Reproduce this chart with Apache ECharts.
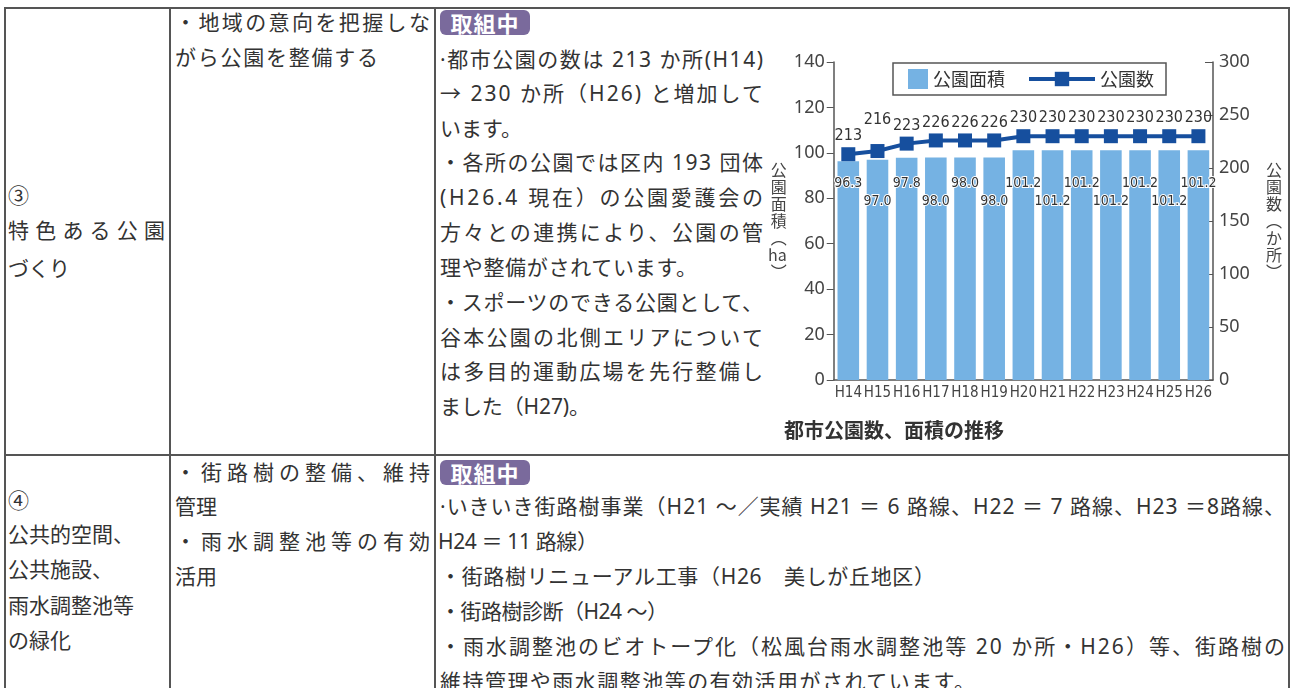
<!DOCTYPE html>
<html lang="ja">
<head>
<meta charset="utf-8">
<title>都市公園数、面積の推移</title>
<script src="https://cdn.jsdelivr.net/npm/echarts@6/dist/echarts.min.js"></script>
<style>
  html, body { margin: 0; padding: 0; background: #fff; }
  body { width: 1292px; height: 688px; position: relative; overflow: hidden;
         font-family: 'Noto Sans', 'Noto Sans CJK JP', sans-serif; color: #333; }
  .rule { position: absolute; background: #555; }
  .ln { position: absolute; font-size: 21px; line-height: 24px; white-space: nowrap; }
  .badge { position: absolute; width: 90px; height: 25px; background: #7a6a9c; color: #fff;
           border-radius: 6px; font-family: 'Noto Sans CJK JP', sans-serif;
           font-size: 22px; font-weight: bold; line-height: 25px;
           text-align: center; letter-spacing: 1px; }
  #chart { position: absolute; left: 765px; top: 36px; width: 520px; height: 410px; }
</style>
</head>
<body>
<!-- table rules -->
<div class="rule" style="left:4px;top:7px;width:1286px;height:2px"></div>
<div class="rule" style="left:4px;top:454px;width:1286px;height:2px"></div>
<div class="rule" style="left:4px;top:7px;width:2px;height:700px"></div>
<div class="rule" style="left:169px;top:7px;width:2px;height:700px"></div>
<div class="rule" style="left:434px;top:7px;width:2px;height:700px"></div>
<div class="rule" style="left:1288px;top:7px;width:2px;height:700px"></div>

<!-- row 1 -->
<div class="ln" style="left:8px;top:183px">③</div>
<div class="ln" style="left:8px;top:218px" data-w="157">特色ある公園</div>
<div class="ln" style="left:8px;top:256px" data-w="62">づくり</div>

<div class="ln" style="left:175px;top:10px" data-w="255">・地域の意向を把握しな</div>
<div class="ln" style="left:175px;top:45px" data-w="203">がら公園を整備する</div>

<div class="badge" style="left:440px;top:10px">取組中</div>
<div class="ln" style="left:440px;top:47px" data-w="323">·都市公園の数は 213 か所(H14)</div>
<div class="ln" style="left:440px;top:81px" data-w="323">→ 230 か所（H26) と増加して</div>
<div class="ln" style="left:440px;top:116px">います。</div>
<div class="ln" style="left:440px;top:150px" data-w="323">・各所の公園では区内 193 団体</div>
<div class="ln" style="left:440px;top:185px" data-w="323">(H26.4 現在）の公園愛護会の</div>
<div class="ln" style="left:440px;top:220px" data-w="323">方々との連携により、公園の管</div>
<div class="ln" style="left:440px;top:255px" data-w="257">理や整備がされています。</div>
<div class="ln" style="left:440px;top:290px" data-w="323">・スポーツのできる公園として、</div>
<div class="ln" style="left:440px;top:325px" data-w="323">谷本公園の北側エリアについて</div>
<div class="ln" style="left:440px;top:359px" data-w="323">は多目的運動広場を先行整備し</div>
<div class="ln" style="left:440px;top:394px" data-w="150">ました（H27)。</div>

<!-- row 2 -->
<div class="ln" style="left:8px;top:488px">④</div>
<div class="ln" style="left:8px;top:522px">公共的空間、</div>
<div class="ln" style="left:8px;top:557px">公共施設、</div>
<div class="ln" style="left:8px;top:593px">雨水調整池等</div>
<div class="ln" style="left:8px;top:628px">の緑化</div>

<div class="ln" style="left:175px;top:460px" data-w="255">・街路樹の整備、維持</div>
<div class="ln" style="left:175px;top:494px">管理</div>
<div class="ln" style="left:175px;top:529px" data-w="255">・雨水調整池等の有効</div>
<div class="ln" style="left:175px;top:564px">活用</div>

<div class="badge" style="left:440px;top:460px">取組中</div>
<div class="ln" style="left:440px;top:494px" data-w="845">·いきいき街路樹事業（H21 ～／実績 H21 ＝ 6 路線、H22 ＝ 7 路線、H23 ＝8路線、</div>
<div class="ln" style="left:438px;top:529px" data-w="160">H24 ＝ 11 路線）</div>
<div class="ln" style="left:440px;top:564px" data-w="495">・街路樹リニューアル工事（H26　美しが丘地区）</div>
<div class="ln" style="left:440px;top:599px" data-w="228">・街路樹診断（H24 ～）</div>
<div class="ln" style="left:440px;top:634px" data-w="845">・雨水調整池のビオトープ化（松風台雨水調整池等 20 か所・H26）等、街路樹の</div>
<div class="ln" style="left:440px;top:669px" data-w="535">維持管理や雨水調整池等の有効活用がされています。</div>

<div id="chart"></div>

<script>
// data
const years = ["H14", "H15", "H16", "H17", "H18", "H19", "H20", "H21", "H22", "H23", "H24", "H25", "H26"];
const parkArea = [96.3, 97.0, 97.8, 98.0, 98.0, 98.0, 101.2, 101.2, 101.2, 101.2, 101.2, 101.2, 101.2];
const parkCount = [213, 216, 223, 226, 226, 226, 230, 230, 230, 230, 230, 230, 230];
const areaAxisTicks = [0, 20, 40, 60, 80, 100, 120, 140];
const countAxisTicks = [0, 50, 100, 150, 200, 250, 300];

// stretch each text line to the width it has in the original layout
function fitLines() {
  document.querySelectorAll(".ln[data-w]").forEach(el => {
    const target = +el.dataset.w;
    el.style.letterSpacing = "0px";
    const w = el.getBoundingClientRect().width;
    const n = Array.from(el.textContent).length;
    if (n > 1) el.style.letterSpacing = ((target - w) / (n - 1)) + "px";
  });
}

const numFont = "'DejaVu Sans Condensed', 'Noto Sans', sans-serif";
const jpFont = "'Noto Sans CJK JP', sans-serif";
const barColor = "#75b2e3";
const lineColor = "#164f9e";
const axisColor = "#555";

const options = {
  animation: false,
  textStyle: { fontFamily: jpFont, color: "#333" },
  title: {
    text: "都市公園数、面積の推移",
    left: 14,
    top: 379,
    textStyle: { fontSize: 20, fontWeight: "bold", color: "#333", fontFamily: jpFont }
  },
  graphic: [{
    type: "rect",
    shape: { x: 128, y: 27, width: 273, height: 32 },
    style: { fill: "#fff", stroke: axisColor, lineWidth: 1.5 },
    z: 1
  }],
  legend: [
    {
      data: [{ name: "公園面積", icon: "rect" }],
      left: 143,
      top: 33,
      padding: 0,
      itemWidth: 20,
      itemHeight: 20,
      textStyle: { fontSize: 18, color: "#333" },
      z: 5
    },
    {
      data: ["公園数"],
      left: 262,
      top: 34,
      padding: 0,
      itemWidth: 66,
      itemHeight: 18,
      lineStyle: { width: 4 },
      textStyle: { fontSize: 18, color: "#333" },
      z: 5
    }
  ],
  grid: { left: 68, top: 26, width: 382, height: 318 },
  xAxis: {
    type: "category",
    data: years,
    axisLine: { lineStyle: { color: axisColor, width: 1.5 } },
    axisTick: { inside: true, length: 8, lineStyle: { color: axisColor } },
    axisLabel: { interval: 0, fontFamily: numFont, fontSize: 15, color: "#444", margin: 6 }
  },
  yAxis: [
    {
      type: "value",
      min: areaAxisTicks[0],
      max: areaAxisTicks[areaAxisTicks.length - 1],
      interval: areaAxisTicks[1] - areaAxisTicks[0],
      name: "公\n園\n面\n積\n︵\nha\n︶",
      nameLocation: "middle",
      nameRotate: 0,
      nameGap: 47,
      nameTextStyle: { fontSize: 16, lineHeight: 17, color: "#444" },
      splitLine: { show: false },
      axisLine: { show: true, lineStyle: { color: axisColor, width: 1.5 } },
      axisTick: { show: true, length: 7, lineStyle: { color: axisColor } },
      axisLabel: { fontFamily: "'Noto Sans', sans-serif", fontSize: 18, color: "#444", margin: 9 }
    },
    {
      type: "value",
      min: countAxisTicks[0],
      max: countAxisTicks[countAxisTicks.length - 1],
      interval: countAxisTicks[1] - countAxisTicks[0],
      name: "公\n園\n数\n︵\nか\n所\n︶",
      nameLocation: "middle",
      nameRotate: 0,
      nameGap: 53,
      nameTextStyle: { fontSize: 16, lineHeight: 17, color: "#444" },
      splitLine: { show: false },
      axisLine: { show: true, lineStyle: { color: axisColor, width: 1.5 } },
      axisTick: { show: true, inside: true, length: 8, lineStyle: { color: axisColor } },
      axisLabel: { fontFamily: "'Noto Sans', sans-serif", fontSize: 18, color: "#444", margin: 6 }
    }
  ],
  series: [
    {
      name: "公園面積",
      type: "bar",
      barCategoryGap: "26%",
      itemStyle: { color: barColor },
      // labels sit at two alternating heights above the axis
      data: parkArea.map((v, i) => ({
        value: v,
        label: { distance: i % 2 === 0 ? 190 : 172 }
      })),
      label: {
        show: true,
        position: "insideBottom",
        formatter: p => p.value.toFixed(1),
        fontFamily: numFont,
        fontSize: 14,
        color: "#333",
        textBorderColor: "#fff",
        textBorderWidth: 2
      },
      z: 2
    },
    {
      name: "公園数",
      type: "line",
      yAxisIndex: 1,
      symbol: "rect",
      symbolSize: 14,
      lineStyle: { color: lineColor, width: 4 },
      itemStyle: { color: lineColor },
      data: parkCount.map((v, i) => ({
        value: v,
        label: { distance: i === 1 ? 16 : 3 }
      })),
      label: {
        show: true,
        position: "top",
        fontFamily: numFont,
        fontSize: 16,
        color: "#333"
      },
      z: 4
    }
  ]
};

fitLines();
const chart = echarts.init(document.getElementById("chart"));
chart.setOption(options);
if (document.fonts && document.fonts.ready) document.fonts.ready.then(fitLines);
window.addEventListener("resize", () => chart.resize());
</script>
</body>
</html>
